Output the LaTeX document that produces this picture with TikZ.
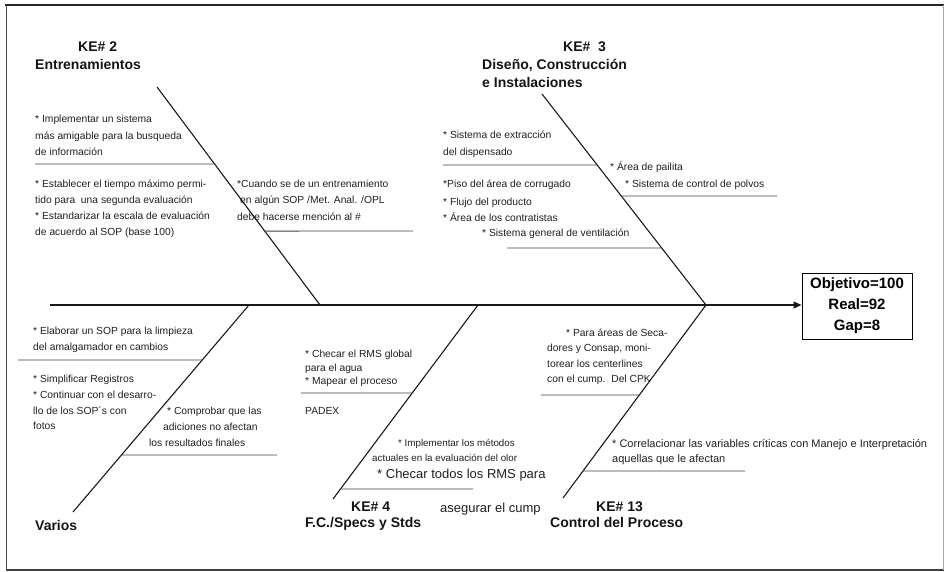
\documentclass[tikz,border=0pt]{standalone}
\usepackage{fontspec}
\setmainfont{Liberation Sans}
\usetikzlibrary{arrows.meta,calc}

\begin{document}
\begin{tikzpicture}[x=1pt,y=-1pt,
  note/.style={anchor=base west, inner sep=0pt, text=black!88,
    font=\fontsize{10.3}{12}\selectfont},
  smallnote/.style={note, font=\fontsize{9.8}{12}\selectfont},
  widenote/.style={note, font=\fontsize{11}{13}\selectfont},
  bignote/.style={note, font=\fontsize{13}{15}\selectfont},
  title/.style={anchor=base west, inner sep=0pt, text=black!92,
    font=\bfseries\fontsize{14}{16}\selectfont},
  bone/.style={line width=1.1pt, black!90},
  twig/.style={line width=0.85pt, black!75},
  goalbox/.style={draw, line width=0.9pt, minimum width=110pt, minimum height=66pt,
    inner sep=0pt, align=center, font=\bfseries\fontsize{15}{21}\selectfont}]

\useasboundingbox (0,0) rectangle (947,572);

% page frame
\draw[line width=1.6pt, black!85] (5,5) -- (944,5);
\draw[line width=0.8pt, black!70] (6,5) -- (6,570);
\draw[line width=1.2pt, black!75] (6,570) -- (944,570);
\draw[line width=0.6pt, black!35] (943,5) -- (943,570);

% spine and goal
\coordinate (tail) at (50,305);
\coordinate (head) at (706,305);
\node[goalbox] (goal) at (857,306) {Objetivo=100\\Real=92\\Gap=8};
\draw[bone] (tail) -- (head);
\draw[bone, -{Triangle[length=8pt,width=7pt]}] (head) -- (goal.west |- head);

% main bones
\coordinate (b2top) at (157,87);   \coordinate (b2foot) at (320,305);
\coordinate (b3top) at (542,94);
\coordinate (bvtop) at (73,512);   \coordinate (bvfoot) at (249,305);
\coordinate (b4top) at (333,499);  \coordinate (b4foot) at (478,305);
\coordinate (b13top) at (563,498);
\draw[bone] (b2top) -- (b2foot);
\draw[bone] (b3top) -- (head);
\draw[bone] (bvtop) -- (bvfoot);
\draw[bone] (b4top) -- (b4foot);
\draw[bone] (b13top) -- (head);

% ---- KE# 2 Entrenamientos
\node[title] (t2a) at (78,52) {KE\# 2};
\node[title] (t2b) at (35,70) {Entrenamientos};
\node[note] (n21) at (35,123) {* Implementar un sistema};
\node[note] (n22) at (35,140) {más amigable para la busqueda};
\node[note] (n23) at (35,156) {de información};
\coordinate (s21a) at (35,164);
\coordinate (s21b) at ($(b2top)!0.353!(b2foot)$);
\draw[twig] (s21a) -- (s21b);
\node[note] (n24) at (35,188) {* Establecer el tiempo máximo permi-};
\node[note] (n25) at (35,204) {tido para\ \ una segunda evaluación};
\node[note] (n26) at (35,219) {* Estandarizar la escala de evaluación};
\node[note] (n27) at (35,235) {de acuerdo al SOP (base 100)};
\node[note] (n28) at (237,188) {*Cuando se de un entrenamiento};
\node[note] (n29) at (240,204) {en algún SOP /Met. Anal. /OPL};
\node[note] (n2a) at (237,220) {debe hacerse mención al \#};
\coordinate (s22a) at ($(b2top)!0.661!(b2foot)$);
\coordinate (s22b) at (413,231);
\draw[twig] (s22a) -- (s22b);

% ---- KE# 3 Diseño, Construcción e Instalaciones
\node[title] (t3a) at (563,52) {KE\#\ \ 3};
\node[title] (t3b) at (482,70) {Diseño, Construcción};
\node[title] (t3c) at (482,88) {e Instalaciones};
\node[note] (n31) at (443,139) {* Sistema de extracción};
\node[note] (n32) at (443,156) {del dispensado};
\coordinate (s31a) at (443,165);
\coordinate (s31b) at ($(b3top)!0.3365!(head)$);
\draw[twig] (s31a) -- (s31b);
\node[note] (n33) at (610,171) {* Área de pailita};
\node[note] (n34) at (625,188) {* Sistema de control de polvos};
\coordinate (s32a) at ($(b3top)!0.4834!(head)$);
\coordinate (s32b) at (777,196);
\draw[twig] (s32a) -- (s32b);
\node[note] (n35) at (443,188) {*Piso del área de corrugado};
\node[note] (n36) at (443,205) {* Flujo del producto};
\node[note] (n37) at (443,221) {* Área de los contratistas};
\node[note] (n38) at (482,236) {* Sistema general de ventilación};
\coordinate (s33a) at (507,248);
\coordinate (s33b) at ($(b3top)!0.7299!(head)$);
\draw[twig] (s33a) -- (s33b);

% ---- Varios
\node[title] (tva) at (35,530) {Varios};
\node[note] (nv1) at (33,334) {* Elaborar un SOP para la limpieza};
\node[note] (nv2) at (33,350) {del amalgamador en cambios};
\coordinate (sv1a) at (18,360);
\coordinate (sv1b) at ($(bvtop)!0.7343!(bvfoot)$);
\draw[twig] (sv1a) -- (sv1b);
\node[note] (nv3) at (33,382) {* Simplificar Registros};
\node[note] (nv4) at (33,398) {* Continuar con el desarro-};
\node[note] (nv5) at (33,414) {llo de los SOP´s con};
\node[note] (nv6) at (33,429) {fotos};
\node[note] (nv7) at (167,414) {* Comprobar que las};
\node[note] (nv8) at (163,430) {adiciones no afectan};
\node[note] (nv9) at (149,446) {los resultados finales};
\coordinate (sv2a) at ($(bvtop)!0.2754!(bvfoot)$);
\coordinate (sv2b) at (277,455);
\draw[twig] (sv2a) -- (sv2b);

% ---- KE# 4 F.C./Specs y Stds
\node[title] (t4a) at (351,511) {KE\# 4};
\node[title] (t4b) at (305,527) {F.C./Specs y Stds};
\node[note] (n41) at (305,357) {* Checar el RMS global};
\node[note] (n42) at (305,371) {para el agua};
\node[note] (n43) at (305,384) {* Mapear el proceso};
\coordinate (s41a) at (301,393);
\coordinate (s41b) at ($(b4top)!0.5464!(b4foot)$);
\draw[twig] (s41a) -- (s41b);
\node[note] (n44) at (305,414) {PADEX};
\node[smallnote] (n45) at (398,446) {* Implementar los métodos};
\node[smallnote] (n46) at (372,461) {actuales en la evaluación del olor};
\node[bignote] (n47) at (377,478) {* Checar todos los RMS para};
\coordinate (s42a) at ($(b4top)!0.0515!(b4foot)$);
\coordinate (s42b) at (473,489);
\draw[twig] (s42a) -- (s42b);
\node[bignote] (n48) at (440,512) {asegurar el cump};

% ---- KE# 13 Control del Proceso
\node[title] (t13a) at (596,511) {KE\# 13};
\node[title] (t13b) at (550,527) {Control del Proceso};
\node[note] (n131) at (566,336) {* Para áreas de Seca-};
\node[note] (n132) at (547,351) {dores y Consap, moni-};
\node[note] (n133) at (547,367) {torear los centerlines};
\node[note] (n134) at (547,382) {con el cump.\ \ Del CPK};
\coordinate (s131a) at (541,395);
\coordinate (s131b) at ($(b13top)!0.5337!(head)$);
\draw[twig] (s131a) -- (s131b);
\node[widenote] (n135) at (612,447) {* Correlacionar las variables críticas con Manejo e Interpretación};
\node[widenote] (n136) at (612,462) {aquellas que le afectan};
\coordinate (s132a) at ($(b13top)!0.1399!(head)$);
\coordinate (s132b) at (745,471);
\draw[twig] (s132a) -- (s132b);

\end{tikzpicture}
\end{document}
